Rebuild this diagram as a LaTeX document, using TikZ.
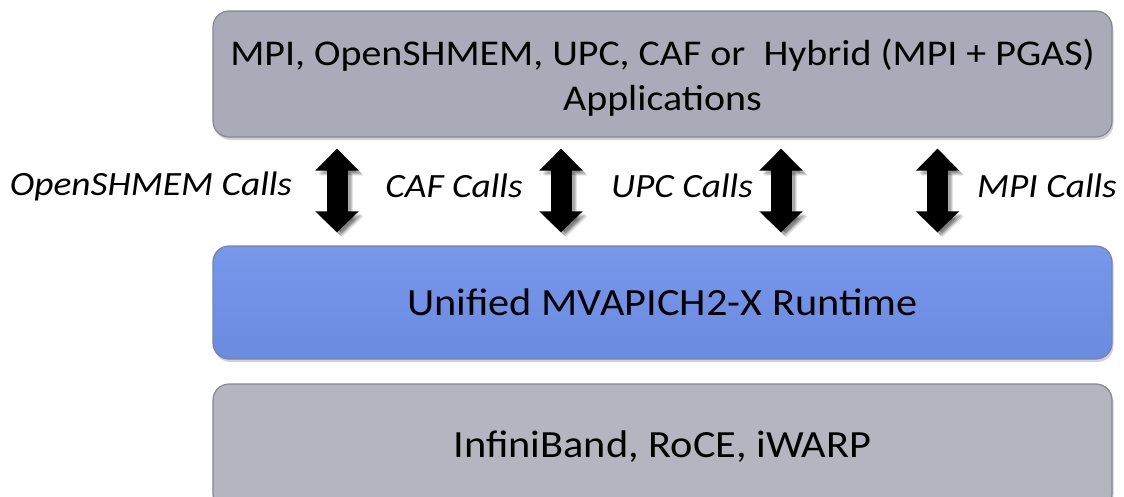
\documentclass[tikz,border=0pt]{standalone}
\usepackage{fontspec}
\setmainfont{Carlito}
\usetikzlibrary{arrows.meta,shadows}
\definecolor{topfill}{RGB}{171,170,185}
\definecolor{midtop}{RGB}{118,151,234}
\definecolor{midbot}{RGB}{107,139,224}
\definecolor{botfill}{RGB}{181,181,191}
\definecolor{edgegray}{RGB}{135,135,148}
\definecolor{edgeblue}{RGB}{120,132,170}
\newcommand{\sx}[1]{\scalebox{1.1}[1]{#1}}
\tikzset{
  layer/.style={rounded corners=16pt, minimum width=899pt, line width=1.2pt,
    inner sep=0pt, drop shadow={shadow xshift=1.5pt, shadow yshift=-3pt, opacity=0.35}},
  bigarrow/.style={line width=21pt, {Triangle[width=42pt,length=22pt]}-{Triangle[width=42pt,length=21pt]}},
  callsfont/.style={font=\fontsize{34}{40}\selectfont\itshape, inner sep=0pt},
}
\begin{document}
\begin{tikzpicture}[x=1pt,y=-1pt]
\clip (0,0) rectangle (1124,496);
\fill[white] (0,0) rectangle (1124,496);

\node[layer, fill=topfill, draw=edgegray, minimum height=126pt] (apps) at (662.5,74) {};
\node[font=\fontsize{36.3}{45}\selectfont, align=center, inner sep=0pt, yshift=-4pt] (appstxt) at (apps.center)
  {\sx{MPI, OpenSHMEM, UPC, CAF or\ \ Hybrid (MPI + PGAS)}\\ \sx{Applications}};

\node[layer, top color=midtop, bottom color=midbot, draw=edgeblue, minimum height=113pt,
  font=\fontsize{38.5}{45}\selectfont] (rt) at (662.5,302.5)
  {\sx{Unified MVAPICH2-X Runtime}};

\node[layer, fill=botfill, draw=edgegray, minimum height=126pt,
  font=\fontsize{38.5}{45}\selectfont] (net) at (662.5,447)
  {\sx{InfiniBand, RoCE, iWARP}};

\coordinate (x1) at (337,0);
\coordinate (x2) at (561,0);
\coordinate (x3) at (781,0);
\coordinate (x4) at (937.5,0);

\foreach \c in {x1,x2,x3,x4}{
  \foreach \s/\o in {5/0.10,4/0.12,3/0.15}{
    \draw[bigarrow, draw=black, opacity=\o, transform canvas={shift={(\s pt,-\s pt)}}, shorten <=11pt, shorten >=13pt]
      (apps.south -| \c) -- (rt.north -| \c);
  }
  \draw[bigarrow, shorten <=11pt, shorten >=13pt] (apps.south -| \c) -- (rt.north -| \c);
}

\node[callsfont] (l1) at (151,186) {\sx{OpenSHMEM Calls}};
\node[callsfont] (l2) at (454,186) {\sx{CAF Calls}};
\node[callsfont] (l3) at (682,186) {\sx{UPC Calls}};
\node[callsfont] (l4) at (1047,186) {\sx{MPI Calls}};
\end{tikzpicture}
\end{document}
